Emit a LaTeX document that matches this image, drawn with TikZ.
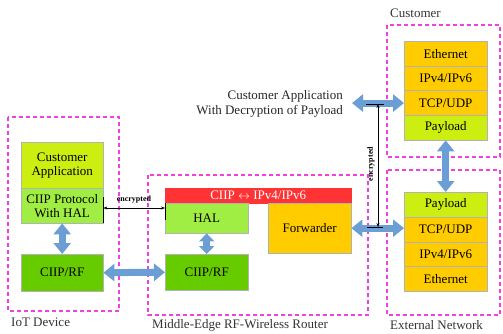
\documentclass[tikz,border=0pt]{standalone}
\usepackage{fontspec}
\setmainfont{Liberation Serif}
\usetikzlibrary{arrows.meta}
\definecolor{yg}{HTML}{CCEE11}
\definecolor{lg}{HTML}{A0EE44}
\definecolor{dg}{HTML}{66CC00}
\definecolor{redbar}{HTML}{FF3333}
\definecolor{orng}{HTML}{FFCC00}
\definecolor{zonec}{HTML}{F040E0}
\definecolor{arrowc}{HTML}{6C9ED6}
\begin{document}
\begin{tikzpicture}[x=1pt,y=-1pt,
  box/.style={draw=gray!60, line width=0.4pt, inner sep=0pt, anchor=north west, align=center,
              font=\fontsize{13}{14}\selectfont},
  sz/.style 2 args={minimum width=#1pt, minimum height=#2pt},
  zone/.style={draw=zonec, line width=1.6pt, dash pattern=on 4pt off 3pt},
  lbl/.style={font=\fontsize{13}{14}\selectfont, text=black!80, anchor=west, inner sep=0pt},
  fat/.style={draw=arrowc, line width=7pt, {Triangle[width=17pt,length=11pt]}-{Triangle[width=17pt,length=11pt]}},
  fatshort/.style={draw=arrowc, line width=7pt, {Triangle[width=15pt,length=8pt]}-{Triangle[width=15pt,length=8pt]}},
  thinarr/.style={draw=black, line width=0.5pt, {Stealth[length=4pt,width=3pt]}-{Stealth[length=4pt,width=3pt]}},
  enc/.style={font=\bfseries\fontsize{8}{9}\selectfont, inner sep=1pt},
  tick/.style={draw=black, line width=0.6pt}]
\useasboundingbox (0,0) rectangle (503,334);

% zones
\draw[zone] (8,117) rectangle (119,311);
\draw[zone] (148,175) rectangle (368,315);
\draw[zone] (387,25) rectangle (500,157);
\draw[zone] (387,170) rectangle (500,315);

% zone labels
\node[lbl] (l1) at (11,322) {IoT Device};
\node[lbl] (l2) at (152,325) {Middle-Edge RF-Wireless Router};
\node[lbl] (l3) at (390,325) {External Network};
\node[lbl] (l4) at (390,13) {Customer};

% IoT device
\node[box, sz={82}{46}, fill=yg] (ca) at (21,142) {Customer\\Application};
\node[box, sz={82}{35}, fill=lg] (cp) at (21,188) {CIIP Protocol\\With HAL};
\node[box, sz={82}{37}, fill=dg] (rf1) at (21,254) {CIIP/RF};

% router
\node[box, sz={186}{15}, fill=redbar, text=white, draw=redbar] (bar) at (165,188) {CIIP $\leftrightarrow$ IPv4/IPv6};
\node[box, sz={83}{30}, fill=lg] (hal) at (165,203) {HAL};
\node[box, sz={83}{50}, fill=orng] (fw) at (268,203) {Forwarder};
\node[box, sz={83}{36}, fill=dg] (rf2) at (165,254) {CIIP/RF};

% customer stack
\node[box, sz={83}{24.75}, fill=orng] (ceth) at (404,41) {Ethernet};
\node[box, sz={83}{24.75}, fill=orng] (cip) at (404,65.75) {IPv4/IPv6};
\node[box, sz={83}{24.75}, fill=orng] (ctcp) at (404,90.5) {TCP/UDP};
\node[box, sz={83}{24.75}, fill=yg] (cpay) at (404,115.25) {Payload};

% external stack
\node[box, sz={83}{24.75}, fill=yg] (epay) at (404,192) {Payload};
\node[box, sz={83}{24.75}, fill=orng] (etcp) at (404,216.75) {TCP/UDP};
\node[box, sz={83}{24.75}, fill=orng] (eip) at (404,241.5) {IPv4/IPv6};
\node[box, sz={83}{24.75}, fill=orng] (eeth) at (404,266.25) {Ethernet};

% customer application text
\node[font=\fontsize{13}{15}\selectfont, align=right, anchor=east, inner sep=0pt, text=black!85] (capp) at (343,103.5)
  {Customer Application\\With Decryption of Payload};

% fat arrows
\draw[fat] (cp.south) -- (rf1.north);
\draw[fat] (rf1.east) -- (rf2.west);
\draw[fatshort] (hal.south) -- (rf2.north);
\draw[fat] (fw.east) -- (fw.east -| etcp.west);
\draw[fat] ([xshift=9pt]capp.east |- ctcp.west) -- (ctcp.west);
\draw[fat] (cpay.south) -- (epay.north);

% encrypted horizontal
\coordinate (ey) at (0,208);
\draw[thinarr] (cp.east |- ey) -- (hal.west |- ey);
\node[enc] (et1) at (134,200) {encrypted};
\coordinate (t1) at (0,197);
\coordinate (t2) at (0,220);
\draw[tick] (cp.east |- t1) -- (cp.south east);
\draw[tick] (hal.north west) -- (hal.west |- t2);

% encrypted vertical
\coordinate (v1) at (378,104);
\coordinate (v2) at (378,227);
\draw[thinarr] (v1) -- (v2);
\draw[tick] ([xshift=-12pt]v1) -- ([xshift=6pt]v1);
\draw[tick] ([xshift=-11pt]v2) -- ([xshift=5pt]v2);
\node[enc, rotate=90] (et2) at (371,164) {encrypted};
\end{tikzpicture}
\end{document}
